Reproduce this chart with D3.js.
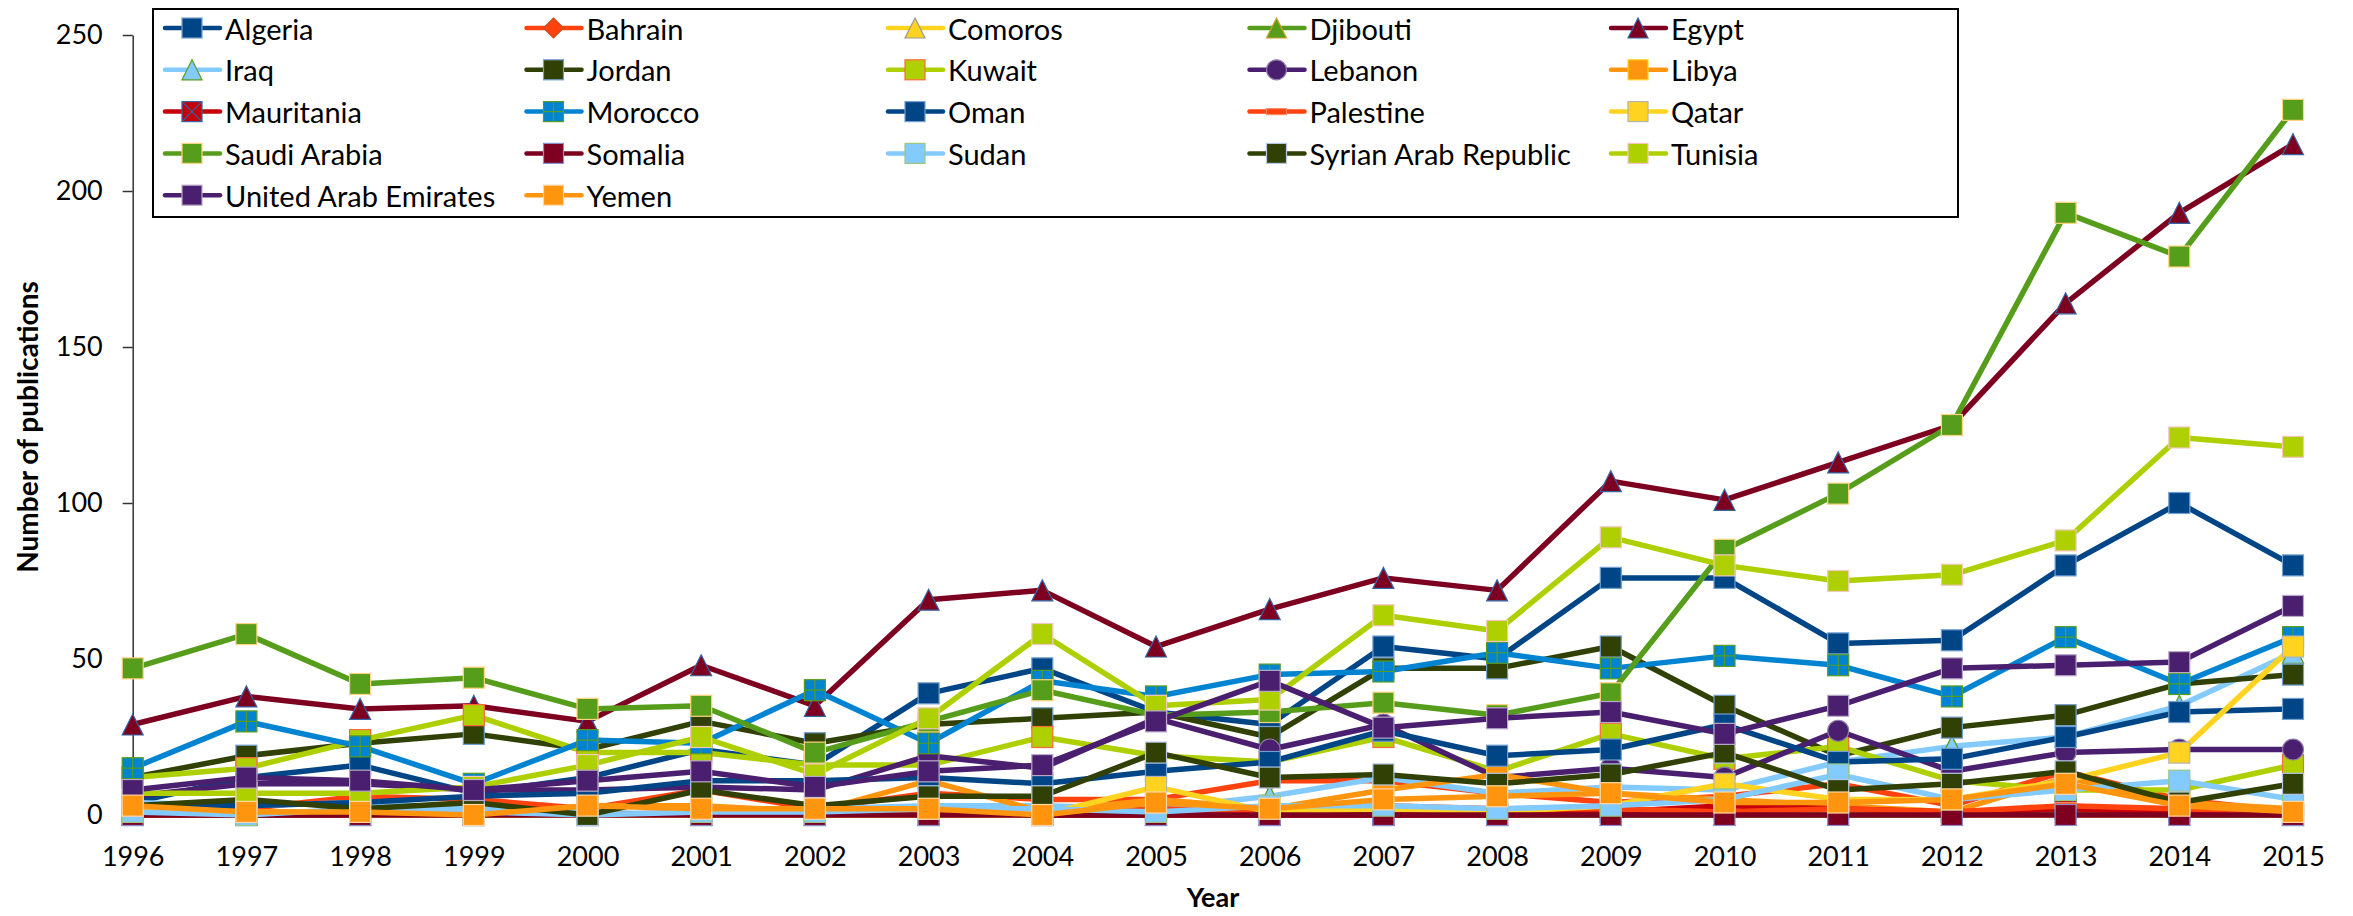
<!DOCTYPE html>
<html><head><meta charset="utf-8">
<script src="https://cdn.jsdelivr.net/npm/d3@7"></script>
<style>body{margin:0;background:#fff;}svg{display:block;}text{font-family:Lato,"Liberation Sans",sans-serif;}</style>
</head><body><svg id="chart" width="2353" height="916"></svg>
<script>
const years = [1996,1997,1998,1999,2000,2001,2002,2003,2004,2005,2006,2007,2008,2009,2010,2011,2012,2013,2014,2015];
const yTicks = [0,50,100,150,200,250];
const countries = ["Algeria","Bahrain","Comoros","Djibouti","Egypt","Iraq","Jordan","Kuwait","Lebanon","Libya","Mauritania","Morocco","Oman","Palestine","Qatar","Saudi Arabia","Somalia","Sudan","Syrian Arab Republic","Tunisia","United Arab Emirates","Yemen"];
const algeria    = [4,12,16,7,12,21,16,39,47,33,29,54,50,76,76,55,56,80,100,80];
const bahrain    = [1,2,6,5,2,8,2,7,5,5,11,11,7,4,6,10,3,14,5,1];
const comoros    = [0,1,0,0,0,0,0,0,0,0,0,0,0,0,0,0,0,0,0,0];
const djibouti   = [0,0,0,0,0,0,0,0,0,0,0,0,0,0,0,0,0,1,0,0];
const egypt      = [29,38,34,35,30,48,35,69,72,54,66,76,72,107,101,113,125,164,193,215];
const iraq       = [4,3,4,2,1,0,2,3,3,2,6,12,7,9,8,17,22,25,35,52];
const jordan     = [12,19,23,26,21,30,23,29,31,33,25,47,47,54,35,19,28,32,42,45];
const kuwait     = [12,15,24,32,20,20,16,16,25,19,17,25,14,26,18,22,11,8,8,16];
const lebanon    = [6,10,10,8,8,9,8,19,15,31,21,29,12,15,12,27,14,20,21,21];
const libya      = [2,1,1,0,3,3,1,11,1,5,2,8,13,7,5,3,1,12,4,2];
const mauritania = [0,0,0,0,0,0,0,0,0,0,0,0,0,1,3,2,1,2,1,0];
const morocco    = [15,30,22,10,24,23,40,23,43,38,45,46,52,47,51,48,38,57,42,57];
const oman       = [3,3,4,6,7,11,11,12,10,14,17,27,19,21,29,17,18,25,33,34];
const palestine  = [0,0,1,0,0,1,0,1,0,2,1,3,2,2,1,2,1,3,2,1];
const qatar      = [1,1,0,0,0,0,0,0,0,9,1,2,1,3,10,5,5,11,20,54];
const saudi      = [47,58,42,44,34,35,20,30,40,32,33,36,32,39,85,103,125,193,179,226];
const somalia    = [0,0,0,0,0,0,0,0,0,0,0,0,0,0,0,0,0,0,0,0];
const sudan      = [1,0,2,1,0,1,1,2,2,1,3,3,2,3,5,13,5,8,11,5];
const syria      = [3,5,2,4,0,8,3,6,6,20,12,13,10,13,20,8,10,14,4,10];
const tunisia    = [7,7,7,9,16,25,13,31,58,35,37,64,59,89,80,75,77,88,121,118];
const uae        = [8,12,11,8,11,14,9,14,16,30,43,28,31,33,26,35,47,48,49,67];
const yemen      = [3,1,1,0,3,2,2,2,0,4,2,5,6,7,4,4,5,10,3,1];
const values = [algeria,bahrain,comoros,djibouti,egypt,iraq,jordan,kuwait,lebanon,libya,mauritania,morocco,oman,palestine,qatar,saudi,somalia,sudan,syria,tunisia,uae,yemen];

const palette = ["#004586","#ff420e","#ffd320","#579d1c","#7e0021","#83caff","#314004","#aecf00","#4b1f6f","#ff950e","#c5000b","#0084d1"];
const shapes = ["square","diamond","triangle","triangle","triangle","triangle","square","square","circle","square","cross","plus","square","dash","square","square","square","square","square","square","square","square"];
const borders = ["#729fcf","#c8501a","#999999","#c9a227","#3465a4","#579d1c","#729fcf","#ff6a3d","#8e7ca8","#ffd320","#3465a4","#579d1c","#729fcf","#ff8a65","#b3b3b3","#ffd37f","#8a8fd0","#9ac77f","#b4c7e7","#f4c7c3","#b8a9c9","#ffd6a5"];

const series = countries.map((c,i)=>({name:c, color:palette[i%12], shape:shapes[i], border:borders[i], vals:values[i]}));

const svg = d3.select("#chart");
const x = d3.scaleLinear().domain([1996,2015]).range([132.7,2293]);
const y = d3.scaleLinear().domain([0,250]).range([815,35]);

// axes
const yAxis = svg.append("g").attr("transform","translate(132.7,0)")
  .call(d3.axisLeft(y).tickValues(yTicks).tickSize(10).tickSizeOuter(0).tickPadding(20));
yAxis.select(".domain").attr("stroke","#333").attr("stroke-width",1.5);
yAxis.selectAll(".tick line").attr("stroke","#333").attr("stroke-width",1.5);
yAxis.selectAll(".tick text").attr("font-size",27).attr("fill","#000").attr("font-family","Lato");

const xAxis = svg.append("g").attr("transform","translate(0,815)")
  .call(d3.axisBottom(x).tickValues(years).tickFormat(d3.format("d")).tickSize(0).tickSizeOuter(0));
xAxis.select(".domain").attr("stroke","#333").attr("stroke-width",1.5);
xAxis.selectAll(".tick text").attr("font-size",27).attr("fill","#000").attr("font-family","Lato")
  .attr("y",42).attr("dy","0.35em");

svg.append("text").attr("x",1213).attr("y",907).attr("text-anchor","middle")
  .attr("font-size",27).attr("font-weight","bold").text("Year");
svg.append("text").attr("transform","translate(27,427) rotate(-90)").attr("text-anchor","middle").attr("dominant-baseline","central")
  .attr("font-size",28).attr("font-weight","bold").text("Number of publications");

function drawMarker(g, s, cx, cy, sz){
  const h = sz/2;
  if(s.shape==="square"||s.shape==="cross"||s.shape==="plus"){
    g.append("rect").attr("x",cx-h).attr("y",cy-h).attr("width",sz).attr("height",sz)
      .attr("fill",s.color).attr("stroke",s.border).attr("stroke-width",1.2);
    if(s.shape==="cross"){
      g.append("path").attr("d",`M${cx-h},${cy-h}L${cx+h},${cy+h}M${cx+h},${cy-h}L${cx-h},${cy+h}`).attr("stroke",s.border).attr("stroke-width",1.2);
    }
    if(s.shape==="plus"){
      g.append("path").attr("d",`M${cx},${cy-h}L${cx},${cy+h}M${cx-h},${cy}L${cx+h},${cy}`).attr("stroke",s.border).attr("stroke-width",1.2);
    }
  } else if(s.shape==="triangle"){
    g.append("path").attr("d",`M${cx},${cy-h}L${cx+h},${cy+h}L${cx-h},${cy+h}Z`)
      .attr("fill",s.color).attr("stroke",s.border).attr("stroke-width",1.2);
  } else if(s.shape==="diamond"){
    g.append("path").attr("d",`M${cx},${cy-h}L${cx+h},${cy}L${cx},${cy+h}L${cx-h},${cy}Z`)
      .attr("fill",s.color).attr("stroke",s.border).attr("stroke-width",1.2);
  } else if(s.shape==="circle"){
    g.append("ellipse").attr("cx",cx).attr("cy",cy).attr("rx",h).attr("ry",h)
      .attr("fill",s.color).attr("stroke",s.border).attr("stroke-width",1.2);
  } else if(s.shape==="dash"){
    g.append("rect").attr("x",cx-h).attr("y",cy-3).attr("width",sz).attr("height",6)
      .attr("fill",s.color).attr("stroke",s.border).attr("stroke-width",1.2);
  }
}

const line = d3.line().x((d,i)=>x(years[i])).y(d=>y(d));
const plot = svg.append("g");
series.forEach(s=>{
  const g = plot.append("g");
  g.append("path").attr("d",line(s.vals)).attr("fill","none").attr("stroke",s.color)
    .attr("stroke-width",5.5).attr("stroke-linejoin","round");
  s.vals.forEach((v,i)=>drawMarker(g,s,x(years[i]),y(v),21));
});

// legend
const legend = svg.append("g");
legend.append("rect").attr("x",153).attr("y",9).attr("width",1805).attr("height",208)
  .attr("fill","#fff").attr("stroke","#000").attr("stroke-width",2);
series.forEach((s,i)=>{
  const col = i%5, row = Math.floor(i/5);
  const tx = 225 + col*361.5, cy = 28 + row*41.8;
  const g = legend.append("g");
  g.append("line").attr("x1",tx-60).attr("x2",tx-5).attr("y1",cy).attr("y2",cy)
    .attr("stroke",s.color).attr("stroke-width",4.5).attr("stroke-linecap","round");
  drawMarker(g,s,tx-33,cy,20);
  g.append("text").attr("x",tx).attr("y",cy).attr("dominant-baseline","central")
    .attr("font-size",29).text(s.name);
});
</script></body></html>
